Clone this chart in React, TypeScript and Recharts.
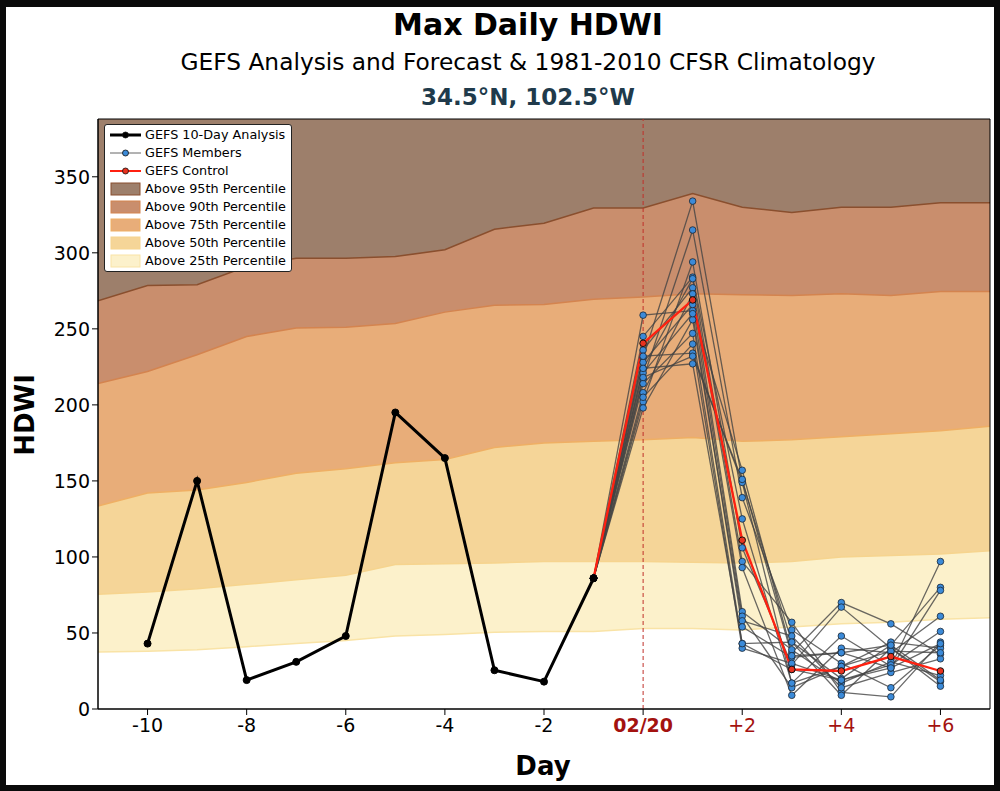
import {
  ComposedChart,
  Area,
  Line,
  XAxis,
  YAxis,
  ReferenceLine,
  ReferenceArea,
} from 'recharts';

const FONT = '"DejaVu Sans", Verdana, sans-serif';

const days = [-11, -10, -9, -8, -7, -6, -5, -4, -3, -2, -1, 0, 1, 2, 3, 4, 5, 6, 7];

// climatology percentiles, one value per day
const p25 = [37.5, 38, 39, 41, 43, 45, 48, 49, 50.5, 51, 51, 53, 53, 52, 54, 56, 57, 59, 60];
const p50 = [75.5, 77, 79, 82, 85, 88, 95, 95.5, 96, 97, 97, 97, 96.5, 96, 97, 100, 101, 102, 104];
const p75 = [133.5, 142, 144, 149, 155, 158, 162, 164, 172, 175, 176, 177, 178.5, 176, 177, 179, 181, 183, 186];
const p90 = [214, 222, 233, 245, 250.5, 251, 253.5, 261, 265.5, 266, 269.5, 271, 273, 272.5, 272, 273, 272, 274.5, 274.5];
const p95 = [268.5, 278.5, 279, 291, 296.5, 296.5, 297.5, 302, 315.5, 319.5, 329.5, 329.5, 339, 330, 326.5, 330, 330, 333, 333];

// analysis, days -10 .. -1
const analysisDays = [-10, -9, -8, -7, -6, -5, -4, -3, -2, -1];
const analysis = [43, 150, 19, 31, 48, 195, 165, 25.5, 18, 86];

// forecast, days -1 .. 6
const fcstDays = [-1, 0, 1, 2, 3, 4, 5, 6];
const control = [86, 240.5, 269, 111, 26, 25, 34.5, 25];
const members = [
  [86, 231, 334, 150, 44, 20, 42, 80],
  [86, 259, 262, 157, 37, 70, 56, 36],
  [86, 217, 315, 139, 52, 30, 14, 42],
  [86, 245, 284, 125, 17, 48, 28, 97],
  [86, 202, 294, 106, 29, 67, 40, 18],
  [86, 224, 283, 97, 57, 11, 8, 44],
  [86, 236, 277, 93, 9, 40, 37, 61],
  [86, 208, 273, 64, 39, 17, 31, 22],
  [86, 228, 266, 61, 14, 28, 44, 40],
  [86, 198, 256, 58, 48, 14, 24, 33],
  [86, 221, 260, 54, 34, 37, 27, 78],
  [86, 214, 247, 43, 44, 9, 40, 15],
  [86, 205, 240, 40, 30, 19, 29, 51],
  [86, 232, 234, 149, 17, 28, 38, 37],
  [86, 218, 232, 151, 35, 37, 42, 19],
  [86, 224, 227, 43, 26, 19, 27, 43],
];

const yTicks = [0, 50, 100, 150, 200, 250, 300, 350];
const xTicks = [-10, -8, -6, -4, -2, 0, 2, 4, 6];
const Y_MAX = 388;

const COL = {
  a95: '#9d7f6b',
  b90: '#c98e6d',
  b75: '#e8ad79',
  b50: '#f5d598',
  b25: '#fcf1cb',
  e95: '#8a4f2e',
  e90: '#d4844f',
  e75: '#efaf64',
  e50: '#f6d48e',
  e25: '#f9e3a6',
};

const data = days.map((d, i) => {
  const row: Record<string, number | undefined> = {
    day: d,
    p25: p25[i],
    p50: p50[i],
    p75: p75[i],
    p90: p90[i],
    p95: p95[i],
  };
  const ai = analysisDays.indexOf(d);
  if (ai >= 0) row.analysis = analysis[ai];
  const fi = fcstDays.indexOf(d);
  if (fi >= 0) {
    row.control = control[fi];
    members.forEach((m, k) => {
      row[`m${k}`] = m[fi];
    });
  }
  return row;
});

function DayTick(props: any) {
  const { x, y, payload } = props;
  const v = payload.value as number;
  const label = v === 0 ? '02/20' : v > 0 ? `+${v}` : `${v}`;
  return (
    <text
      x={x}
      y={y}
      dy="0.8em"
      textAnchor="middle"
      fontSize={19}
      fontFamily={FONT}
      fontWeight={v === 0 ? 'bold' : 'normal'}
      fill={v >= 0 ? '#a3120f' : '#000'}
    >
      {label}
    </text>
  );
}

const legendRows = [
  { kind: 'line', label: 'GEFS 10-Day Analysis', stroke: '#000', width: 3, dot: '#000' },
  { kind: 'line', label: 'GEFS Members', stroke: '#666', width: 1, dot: '#3b8ad8' },
  { kind: 'line', label: 'GEFS Control', stroke: '#ff2010', width: 2, dot: '#e8321e' },
  { kind: 'box', label: 'Above 95th Percentile', fill: COL.a95, stroke: COL.e95 },
  { kind: 'box', label: 'Above 90th Percentile', fill: COL.b90, stroke: COL.e90 },
  { kind: 'box', label: 'Above 75th Percentile', fill: COL.b75, stroke: COL.e75 },
  { kind: 'box', label: 'Above 50th Percentile', fill: COL.b50, stroke: COL.e50 },
  { kind: 'box', label: 'Above 25th Percentile', fill: COL.b25, stroke: COL.e25 },
];

function LegendBox() {
  return (
    <div
      style={{
        position: 'absolute',
        left: 104,
        top: 124,
        background: '#fff',
        border: '1px solid #222',
        borderRadius: 3,
        padding: '1px 5px 1px 3px',
        fontFamily: FONT,
        fontSize: 12.8,
        lineHeight: '18px',
        color: '#000',
      }}
    >
      {legendRows.map((r) => (
        <div key={r.label} style={{ display: 'flex', alignItems: 'center', height: 18 }}>
          <svg width={34} height={14} style={{ marginRight: 3 }}>
            {r.kind === 'line' ? (
              <g>
                <line x1={2} x2={33} y1={7} y2={7} stroke={r.stroke} strokeWidth={r.width} />
                <circle cx={17.5} cy={7} r={3} fill={r.dot} stroke="#111" strokeWidth={0.8} />
              </g>
            ) : (
              <rect x={3} y={1} width={29} height={12} fill={r.fill} stroke={r.stroke} strokeWidth={1} />
            )}
          </svg>
          <span>{r.label}</span>
        </div>
      ))}
    </div>
  );
}

export default function App() {
  return (
    <div
      style={{
        position: 'absolute',
        left: 0,
        top: 0,
        width: 1000,
        height: 791,
        background: '#0a0a0a',
      }}
    >
      <div
        style={{
          position: 'absolute',
          left: 6,
          top: 7,
          width: 988,
          height: 778,
          background: '#fff',
        }}
      />
      <div
        style={{
          position: 'absolute',
          left: 0,
          top: 0,
          width: 1000,
          height: 791,
        }}
      >
        <ComposedChart
          width={1000}
          height={791}
          data={data}
          margin={{ top: 119, right: 10, bottom: 42, left: 38 }}
        >
          <XAxis
            dataKey="day"
            type="number"
            domain={[-11, 7]}
            ticks={xTicks}
            allowDataOverflow
            tick={<DayTick />}
            tickLine={{ stroke: '#000' }}
            axisLine={{ stroke: '#000' }}
            height={40}
            interval={0}
          />
          <YAxis
            type="number"
            domain={[0, Y_MAX]}
            ticks={yTicks}
            allowDataOverflow
            width={60}
            tick={{ fill: '#000', fontSize: 19, fontFamily: FONT }}
            tickLine={{ stroke: '#000' }}
            axisLine={{ stroke: '#000' }}
            interval={0}
          />
          <ReferenceArea x1={-11} x2={7} y1={0} y2={Y_MAX} fill={COL.a95} fillOpacity={1} stroke="none" />
          <Area type="linear" dataKey="p95" baseValue={0} fill={COL.b90} fillOpacity={1} stroke={COL.e95} strokeWidth={1.5} isAnimationActive={false} />
          <Area type="linear" dataKey="p90" baseValue={0} fill={COL.b75} fillOpacity={1} stroke={COL.e90} strokeWidth={1.5} isAnimationActive={false} />
          <Area type="linear" dataKey="p75" baseValue={0} fill={COL.b50} fillOpacity={1} stroke={COL.e75} strokeWidth={1.5} isAnimationActive={false} />
          <Area type="linear" dataKey="p50" baseValue={0} fill={COL.b25} fillOpacity={1} stroke={COL.e50} strokeWidth={1.5} isAnimationActive={false} />
          <Area type="linear" dataKey="p25" baseValue={0} fill="#ffffff" fillOpacity={1} stroke={COL.e25} strokeWidth={1.5} isAnimationActive={false} />
          <ReferenceLine x={0} stroke="#c0302a" strokeDasharray="4 3" strokeWidth={1} />
          {members.map((_, k) => (
            <Line
              key={k}
              type="linear"
              dataKey={`m${k}`}
              stroke="#444"
              strokeOpacity={0.8}
              strokeWidth={1.3}
              dot={{ r: 3.3, fill: '#3b8ad8', stroke: '#1b2733', strokeWidth: 1, fillOpacity: 1 }}
              activeDot={false}
              connectNulls={false}
              isAnimationActive={false}
            />
          ))}
          <Line
            type="linear"
            dataKey="control"
            stroke="#ff2010"
            strokeWidth={2.3}
            dot={{ r: 3.3, fill: '#e8321e', stroke: '#111', strokeWidth: 1, fillOpacity: 1 }}
            activeDot={false}
            isAnimationActive={false}
          />
          <Line
            type="linear"
            dataKey="analysis"
            stroke="#000"
            strokeWidth={3}
            dot={{ r: 3.5, fill: '#000', stroke: '#000', strokeWidth: 1, fillOpacity: 1 }}
            activeDot={false}
            isAnimationActive={false}
          />
          <ReferenceArea x1={-11} x2={7} y1={0} y2={Y_MAX} fill="none" stroke="#000" strokeWidth={1} />
        </ComposedChart>
      </div>
      <LegendBox />
      <div
        style={{
          position: 'absolute',
          left: 0,
          width: 1056,
          top: 6,
          textAlign: 'center',
          fontFamily: FONT,
          color: '#000',
        }}
      >
        <div style={{ fontSize: 30, fontWeight: 'bold', lineHeight: '38px' }}>Max Daily HDWI</div>
        <div style={{ fontSize: 23.3, lineHeight: '34px', marginTop: 1 }}>
          GEFS Analysis and Forecast &amp; 1981-2010 CFSR Climatology
        </div>
        <div style={{ fontSize: 23, fontWeight: 'bold', lineHeight: '30px', marginTop: 3, color: '#203a4b' }}>
          34.5°N, 102.5°W
        </div>
      </div>
      <div
        style={{
          position: 'absolute',
          left: 543,
          top: 766,
          transform: 'translate(-50%, -50%)',
          fontFamily: FONT,
          fontWeight: 'bold',
          fontSize: 26,
        }}
      >
        Day
      </div>
      <div
        style={{
          position: 'absolute',
          left: 25,
          top: 415,
          transform: 'translate(-50%, -50%) rotate(-90deg)',
          fontFamily: FONT,
          fontWeight: 'bold',
          fontSize: 26,
        }}
      >
        HDWI
      </div>
    </div>
  );
}
